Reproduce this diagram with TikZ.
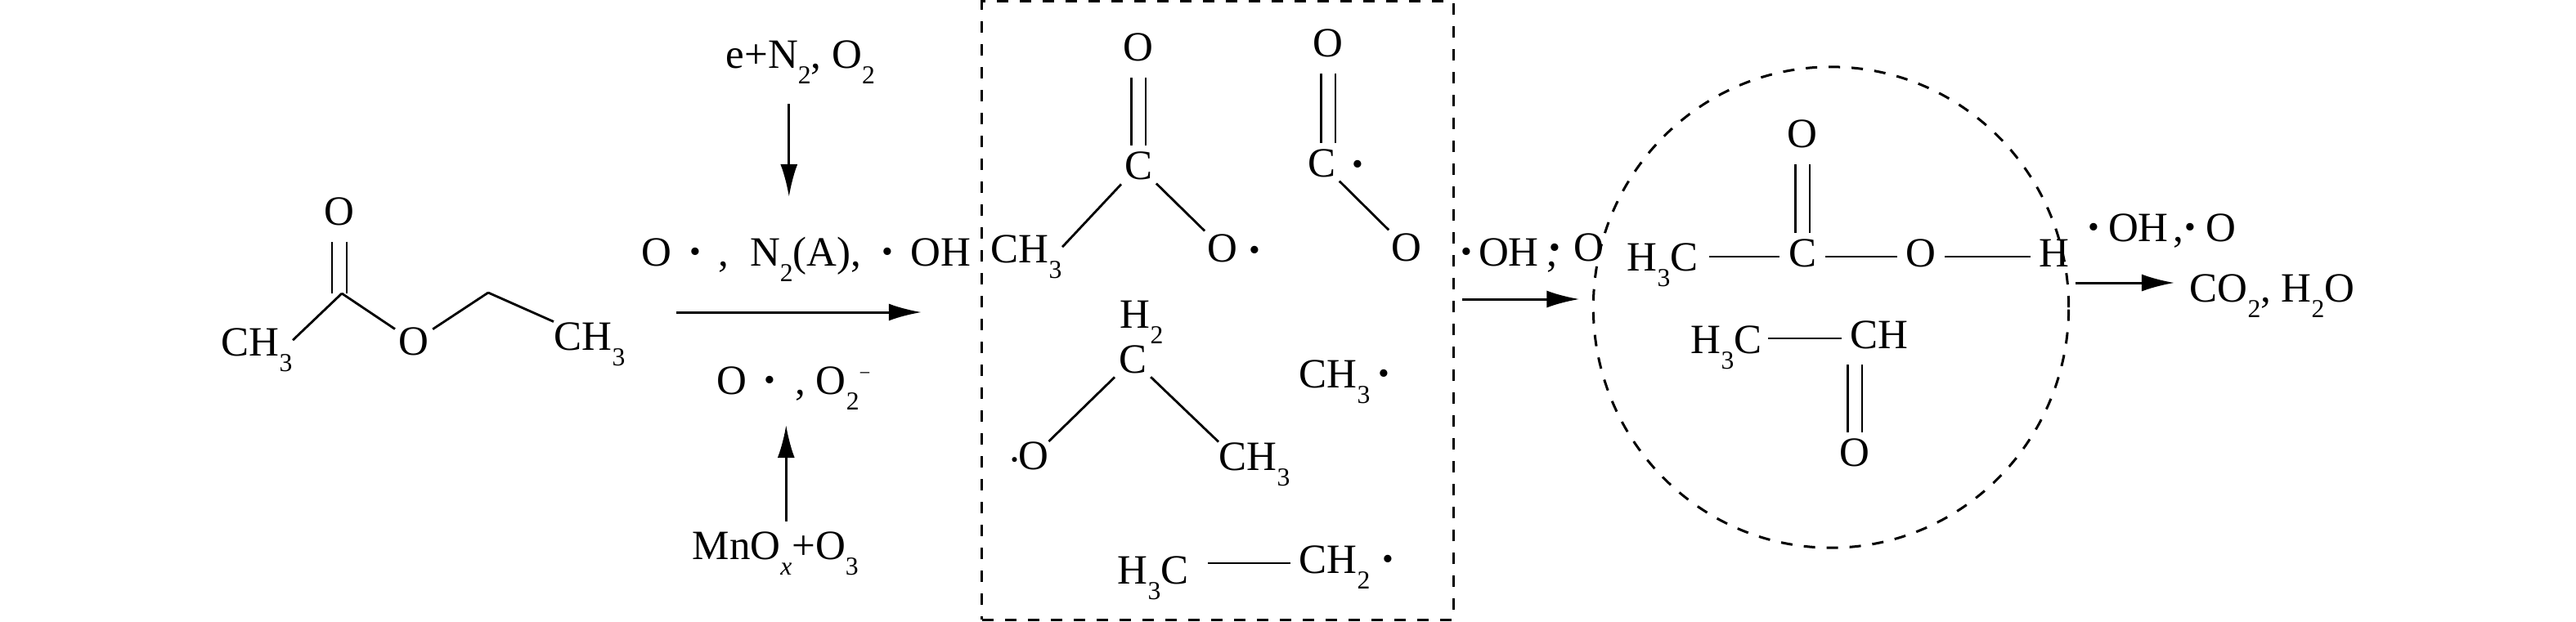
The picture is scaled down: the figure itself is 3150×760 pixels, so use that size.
\documentclass[tikz,border=0pt]{standalone}
\usepackage{fontspec}
\setmainfont{Liberation Serif}
\usetikzlibrary{arrows.meta,shapes.geometric,positioning}
\newcommand{\chemfont}{\fontsize{14.5}{17}\selectfont}
\newcommand{\sbs}[1]{\raisebox{-.38em}{\fontsize{9}{9}\selectfont #1}}
\newcommand{\rad}{\raisebox{-2.3pt}{\fontsize{22}{22}\selectfont ·}}
\tikzset{
  every node/.append style={font=\chemfont},
  atom/.style={circle, inner sep=0pt, minimum size=.6cm},
  junction/.style={inner sep=0pt, minimum size=0pt, outer sep=0pt},
  group/.style={inner sep=0pt, anchor=base west},
  inline/.style={inner sep=0pt, inner xsep=.1cm, anchor=base, text height=.35cm, text depth=.11cm},
  raddot/.style={inner sep=0pt, anchor=base, font=\fontsize{22}{22}\selectfont},
  bond/.style={line width=.028cm},
  dbl/.style={double, double distance=.15cm, line width=.028cm, shorten <=.06cm, shorten >=-.06cm},
  arrowline/.style={line width=.03cm, -{Latex[length=.4cm,width=.21cm]}},
  cage/.style={draw=black, line width=.03cm, dash pattern=on .14cm off .14cm, inner sep=0pt, outer sep=0pt}
}
\begin{document}
\begin{tikzpicture}[x=0.01cm,y=-0.01cm]
  \useasboundingbox (0,0) rectangle (3150,760);

  \node[atom] (eo1) at (415,259) {O};
  \node[junction] (ec) at (418,359) {};
  \node[group] (eme1) at (270,435) {CH\sbs{3}};
  \node[atom] (eo2) at (506,418) {O};
  \node[junction] (ech) at (597,358) {};
  \node[group] (eme2) at (677,428) {CH\sbs{3}};
  \draw[dbl, shorten >=0pt] (eo1) -- (eo1 |- ec);
  \draw[bond] (ec) -- (eme1.15);
  \draw[bond, shorten >=-.03cm] (ec) -- (eo2);
  \draw[bond, shorten <=-.03cm] (eo2) -- (ech);
  \draw[bond] (ech) -- (eme2.north west);

  \node[group] (gas) at (887,83) {e+N\sbs{2}, O\sbs{2}};
  \node[group] (spec) at (784,325) {O\kern.31em\rad\kern.31em,\kern.5em N\sbs{2}(A),\kern.38em\rad\kern.3em OH};
  \node[group] (oxy) at (876,482) {O\kern.3em\rad\kern.35em,\kern.25em O\sbs{2}\raisebox{.35em}{\fontsize{7}{7}\selectfont −}};
  \node[group] (mnox) at (846,684) {MnO\sbs{\itshape x}+O\sbs{3}};
  \coordinate (mainl) at (827,382);
  \draw[arrowline, shorten <=.24cm, shorten >=.48cm] ([xshift=-.14cm]gas.south) -- ([xshift=-.14cm]gas.south |- spec.north);
  \draw[arrowline, shorten <=.12cm, shorten >=.18cm] ([xshift=.13cm]mnox.north) -- ([xshift=.13cm]mnox.north |- oxy.south);

  \node[cage, draw, minimum width=5.76cm, minimum height=7.56cm] (cagebox) at (1489,380) {};
  \draw[arrowline, shorten >=.74cm] (mainl) -- (mainl -| cagebox.west);

  \node[atom] (ao1) at (1392,58) {O};
  \node[atom] (ac1) at (1392,203) {C};
  \node[group] (ame1) at (1211,321) {CH\sbs{3}};
  \node[atom] (ao2) at (1495,304) {O};
  \node[raddot] (ad1) at (1534,331) {·};
  \draw[dbl] (ao1) -- (ac1);
  \draw[bond] (ac1) -- (ame1.15);
  \draw[bond] (ac1) -- (ao2);

  \node[atom] (co1) at (1624,53) {O};
  \node[atom] (cc1) at (1616,200) {C};
  \node[raddot] (cd1) at (1660,226) {·};
  \node[atom] (co2) at (1720,303) {O};
  \draw[dbl] (co1) -- (co1 |- cc1.north);
  \draw[bond] (cc1) -- (co2);

  \node[group] (hh) at (1369,401) {H\sbs{2}};
  \node[atom] (hc) at (1385,440) {C};
  \node[raddot, font=\chemfont] (hd) at (1241,579) {·};
  \node[atom] (ho) at (1264,558) {O};
  \node[group] (hme) at (1490,575) {CH\sbs{3}};
  \draw[bond, shorten >=-.05cm] (hc) -- (ho);
  \draw[bond] (hc) -- (hme.north west);

  \node[group] (mrad) at (1588,474) {CH\sbs{3}\kern.09em\rad};
  \node[group] (ehc) at (1366,714) {H\sbs{3}C};
  \node[inline, anchor=base west] (erad) at (1578,701) {CH\sbs{2}\kern.17em\rad};
  \draw[bond, shorten <=.23cm] (ehc.east |- erad.west) -- (erad.west);

  \node[group] (sol1) at (1780,325) {\rad\kern.03em OH\kern.2em,\kern-.31em\raisebox{.1em}{\rad\kern.2em O}};
  \coordinate (aleft) at (1788,366);
  \node[cage, ellipse, minimum width=5.81cm, minimum height=5.88cm] (ring) at (2239,376) {};
  \draw[arrowline, shorten <=.11cm, shorten >=.17cm] (aleft -| cagebox.east) -- (aleft -| ring.west);

  \node[atom] (po) at (2204,164) {O};
  \node[group] (phc) at (1989,331) {H\sbs{3}C};
  \node[inline] (pc) at (2204,326) {C};
  \node[inline] (pox) at (2349,326) {O};
  \node[inline] (ph) at (2512,326) {H};
  \draw[dbl, shorten >=.05cm] (po) -- (pc);
  \draw[bond, shorten <=.13cm] (phc.east |- pc.west) -- (pc.west);
  \draw[bond] (pc.east) -- (pox.west);
  \draw[bond] (pox.east) -- (ph.west);

  \node[group] (ahc) at (2067,432) {H\sbs{3}C};
  \node[inline, anchor=base west] (ach) at (2252,426) {CH};
  \node[atom] (ao) at (2268,554) {O};
  \draw[bond, shorten <=.07cm] (ahc.east |- ach.west) -- (ach.west);
  \draw[dbl, shorten <=.085cm] (ao |- ach.south) -- (ao);

  \node[group] (sol2) at (2547,295) {\rad\kern.09em OH\kern.12em,\kern-.1em\rad\kern.13em O};
  \node[group] (prod) at (2677,369) {CO\sbs{2}, H\sbs{2}O};
  \coordinate (aright) at (2537,346);
  \draw[arrowline, shorten <=.08cm, shorten >=.18cm] (aright -| ring.east) -- (aright -| prod.west);
\end{tikzpicture}
\end{document}
